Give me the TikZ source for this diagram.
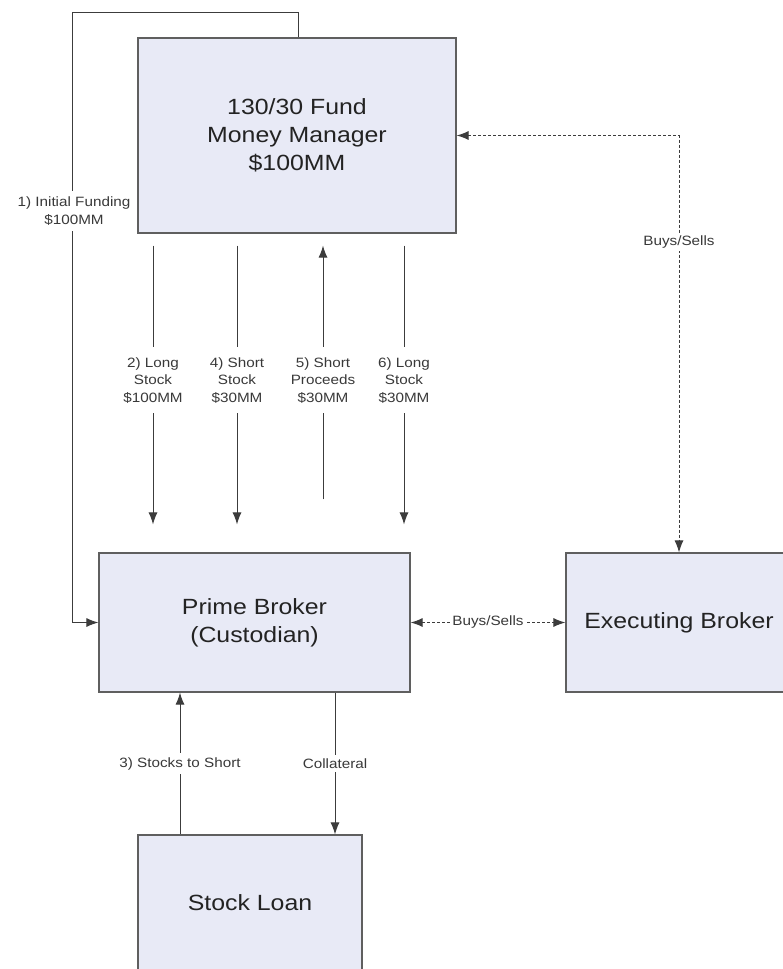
\documentclass[tikz,border=0pt]{standalone}
\usepackage{fontspec}
\setmainfont[FakeStretch=1.13]{Liberation Sans}
\usetikzlibrary{arrows.meta,positioning}
\definecolor{boxfill}{RGB}{232,234,246}
\definecolor{boxline}{RGB}{95,95,95}
\definecolor{flowline}{RGB}{60,60,60}
\definecolor{txt}{RGB}{35,35,35}
\tikzset{
  party/.style={draw=boxline, line width=1.2pt, fill=boxfill, align=center, inner sep=0pt, text=txt, font=\fontsize{22}{28}\selectfont},
  flowlbl/.style={fill=white, align=center, inner xsep=2pt, inner ysep=10pt, text=txt!90, font=\fontsize{13.5}{17.5}\selectfont},
  arrow/.style={-{Latex[length=12pt, width=9pt]}, line width=1pt, draw=flowline},
  dashedarrow/.style={{Latex[length=12pt, width=9pt]}-{Latex[length=12pt, width=9pt]}, line width=1pt, draw=flowline, dash pattern=on 3pt off 2pt}
}
\begin{document}
\begin{tikzpicture}[x=1pt, y=-1pt]
  \clip (0,0) rectangle (783,969);
  \fill[white] (0,0) rectangle (783,969);
  % parties
  \node[party, minimum width=318pt, minimum height=195pt] (mm) at (297,135.5) {130/30 Fund\\Money Manager\\\$100MM};
  \node[party, minimum width=311pt, minimum height=139pt] (pb) at (254.5,622.5) {Prime Broker\\(Custodian)};
  \node[party, minimum width=226pt, minimum height=139pt] (eb) at (679,622.5) {Executing Broker};
  \node[party, minimum width=224pt, minimum height=136pt] (sl) at (250,903) {Stock Loan};
  % initial funding loop
  \coordinate (loopcorner) at (72,12);
  \draw[arrow] ([xshift=1pt]mm.north) |- (loopcorner) |- (pb.west);
  \node[flowlbl, inner ysep=6pt] (fundlbl) at (74,211) {1) Initial Funding\\\$100MM};
  % flows between money manager and prime broker
  \draw[arrow, shorten <=12pt, shorten >=28pt] ([xshift=-144pt]mm.south) -- ([xshift=-144pt]mm.south |- pb.north)
    node[flowlbl, pos=0.46] (long1) {2) Long\\Stock\\\$100MM};
  \draw[arrow, shorten <=12pt, shorten >=28pt] ([xshift=-60pt]mm.south) -- ([xshift=-60pt]mm.south |- pb.north)
    node[flowlbl, pos=0.46] (short1) {4) Short\\Stock\\\$30MM};
  \draw[arrow, shorten <=53pt, shorten >=12pt] ([xshift=26pt]mm.south |- pb.north) -- ([xshift=26pt]mm.south)
    node[flowlbl, pos=0.54] (proceeds) {5) Short\\Proceeds\\\$30MM};
  \draw[arrow, shorten <=12pt, shorten >=28pt] ([xshift=107pt]mm.south) -- ([xshift=107pt]mm.south |- pb.north)
    node[flowlbl, pos=0.46] (long2) {6) Long\\Stock\\\$30MM};
  % trading
  \draw[dashedarrow] (mm.east) -| (eb.north)
    node[flowlbl, inner ysep=2pt, pos=0.628] (trade1) {Buys/Sells};
  \draw[dashedarrow] (pb.east) -- (eb.west)
    node[flowlbl, inner ysep=2pt, inner xsep=1pt, midway] (trade2) {Buys/Sells};
  % stock loan
  \draw[arrow] ([xshift=-70pt]sl.north) -- ([xshift=-70pt]sl.north |- pb.south)
    node[flowlbl, inner ysep=4pt, midway] (borrow) {3) Stocks to Short};
  \draw[arrow] ([xshift=85pt]sl.north |- pb.south) -- ([xshift=85pt]sl.north)
    node[flowlbl, inner ysep=4pt, midway] (collat) {Collateral};
\end{tikzpicture}
\end{document}
